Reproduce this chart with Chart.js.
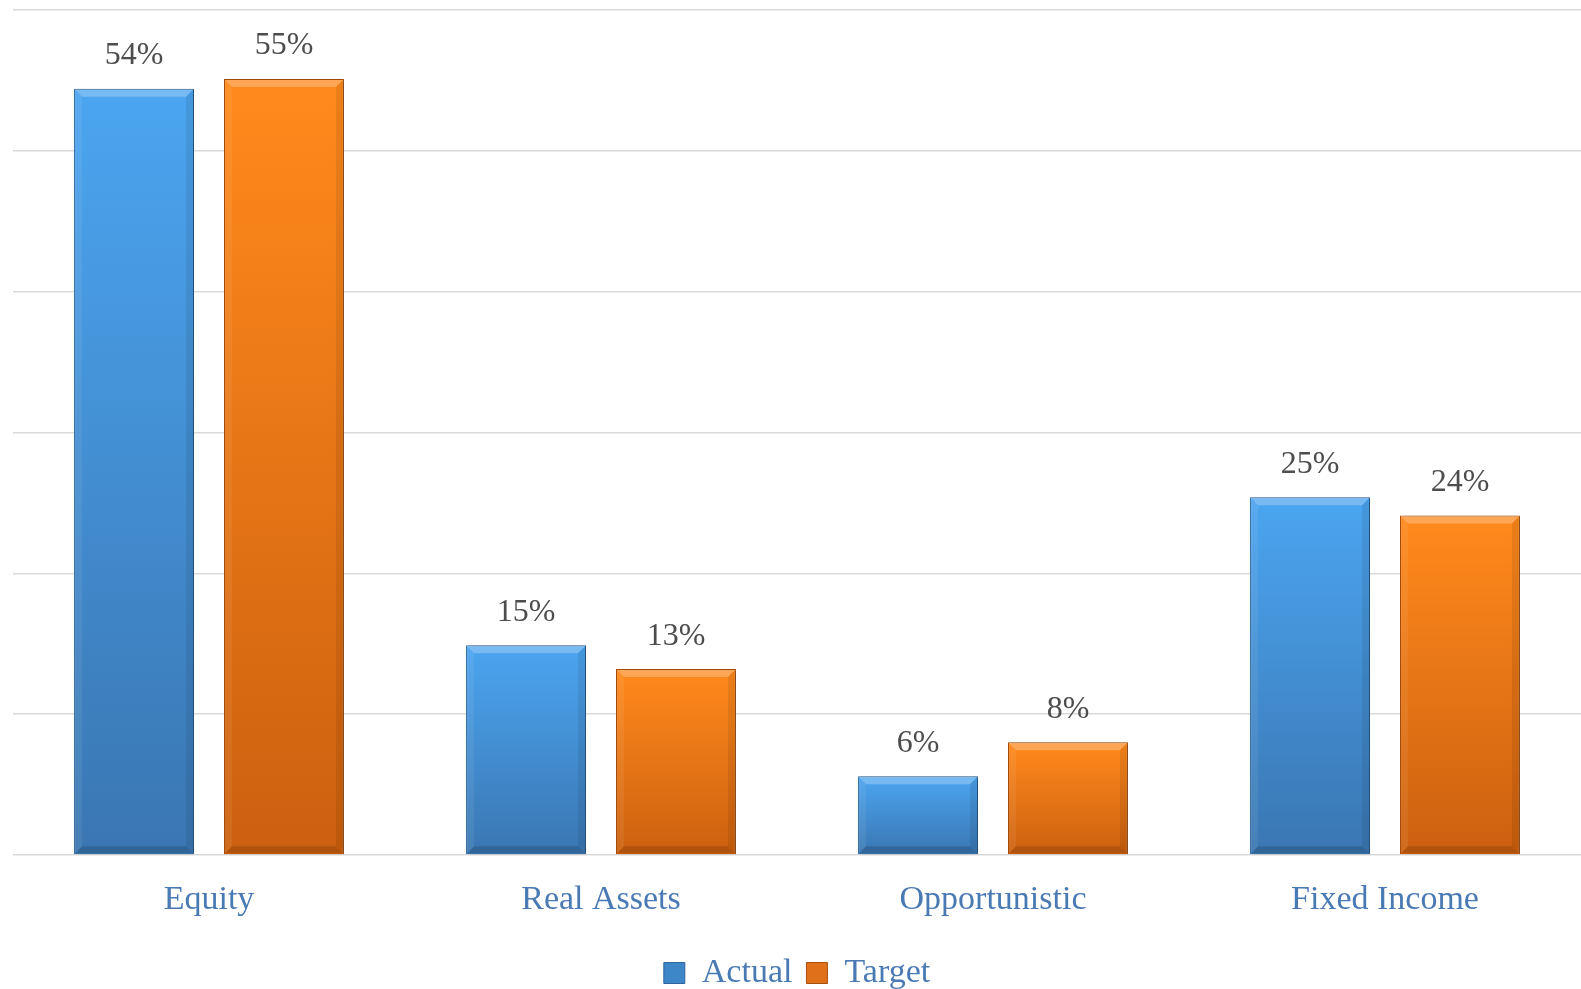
<!DOCTYPE html>
<html>
<head>
<meta charset="utf-8">
<script src="https://cdn.jsdelivr.net/npm/chart.js@4.4.0/dist/chart.umd.min.js"></script>
<style>
html, body { margin: 0; padding: 0; background: #fff; }
</style>
</head>
<body>
<canvas id="allocChart" width="1581" height="989"></canvas>
<script>
// 데이터
const categories = ['Equity', 'Real Assets', 'Opportunistic', 'Fixed Income'];
const actualValues = [54.4, 14.9, 5.6, 25.4];
const targetValues = [55.1, 13.2, 8.0, 24.1];
const seriesNames = ['Actual', 'Target'];
const yMin = 0;
const yMax = 60;
const yStep = 10;

const serifFont = "'Liberation Serif', 'Times New Roman', serif";
const labelBlue = '#4a7ab4';

// 막대 그라데이션 (막대마다 위->아래)
function barGradient(topColor, bottomColor) {
    return function(context) {
        const chart = context.chart;
        const yScale = chart.scales.y;
        if (!yScale || context.type !== 'data') return bottomColor;
        const y0 = yScale.getPixelForValue(0);
        const y1 = yScale.getPixelForValue(context.raw);
        const g = chart.ctx.createLinearGradient(0, y1, 0, y0);
        g.addColorStop(0, topColor);
        g.addColorStop(1, bottomColor);
        return g;
    };
}

function poly(ctx, pts) {
    ctx.beginPath();
    ctx.moveTo(pts[0], pts[1]);
    for (let i = 2; i < pts.length; i += 2) ctx.lineTo(pts[i], pts[i + 1]);
    ctx.closePath();
    ctx.fill();
}

// 그림자
const shadowPlugin = {
    id: 'barShadow',
    beforeDatasetDraw(chart) {
        const ctx = chart.ctx;
        ctx.save();
        ctx.shadowColor = 'rgba(0,0,0,0.3)';
        ctx.shadowBlur = 4;
        ctx.shadowOffsetX = 2;
        ctx.shadowOffsetY = 1;
    },
    afterDatasetDraw(chart) {
        chart.ctx.restore();
    }
};

// 베벨 효과
const bevelPlugin = {
    id: 'bevel',
    afterDatasetsDraw(chart) {
        const ctx = chart.ctx;
        ctx.save();
        chart.data.datasets.forEach((ds, i) => {
            const meta = chart.getDatasetMeta(i);
            meta.data.forEach(bar => {
                const p = bar.getProps(['x', 'y', 'width', 'base'], true);
                const l = p.x - p.width / 2 + 1;
                const r = p.x + p.width / 2 - 1;
                const t = p.y + 1;
                const b = p.base - 1;
                const s = 7;
                ctx.fillStyle = 'rgba(255,255,255,0.25)';
                poly(ctx, [l, t, r, t, r - s, t + s, l + s, t + s]);
                ctx.fillStyle = 'rgba(255,255,255,0.07)';
                poly(ctx, [l, t, l + s, t + s, l + s, b - s, l, b]);
                ctx.fillStyle = 'rgba(0,0,0,0.08)';
                poly(ctx, [r, t, r, b, r - s, b - s, r - s, t + s]);
                ctx.fillStyle = 'rgba(0,0,0,0.14)';
                poly(ctx, [l, b, l + s, b - s, r - s, b - s, r, b]);
            });
        });
        ctx.restore();
    }
};

// 데이터 레이블
const valueLabelPlugin = {
    id: 'valueLabels',
    afterDraw(chart) {
        const ctx = chart.ctx;
        ctx.save();
        ctx.font = "32px " + serifFont;
        ctx.fillStyle = '#4d4d4d';
        ctx.textAlign = 'center';
        ctx.textBaseline = 'middle';
        chart.data.datasets.forEach((ds, i) => {
            const meta = chart.getDatasetMeta(i);
            meta.data.forEach((bar, j) => {
                const text = Math.round(ds.data[j]) + '%';
                ctx.fillText(text, bar.x, bar.y - 33);
            });
        });
        ctx.restore();
    }
};

const ctx = document.getElementById('allocChart').getContext('2d');

new Chart(ctx, {
    type: 'bar',
    data: {
        labels: categories,
        datasets: [{
            label: seriesNames[0],
            data: actualValues,
            backgroundColor: barGradient('#4ba5f0', '#3a76b2'),
            borderColor: '#2e659c',
            borderWidth: 1,
            legendColor: '#3d86c8'
        }, {
            label: seriesNames[1],
            data: targetValues,
            backgroundColor: barGradient('#ff8a1c', '#cc600f'),
            borderColor: '#a94f0c',
            borderWidth: 1,
            legendColor: '#e0701a'
        }]
    },
    options: {
        responsive: false,
        devicePixelRatio: 1,
        animation: false,
        categoryPercentage: 0.765,
        barPercentage: 0.80,
        layout: {
            padding: { left: 13, right: 0, top: 10, bottom: -11 }
        },
        scales: {
            x: {
                grid: { display: false, drawTicks: false },
                border: { display: false },
                ticks: {
                    color: labelBlue,
                    font: { family: serifFont, size: 34 },
                    padding: 25
                },
                afterFit(scale) {
                    scale.height = 87;
                }
            },
            y: {
                min: yMin,
                max: yMax,
                ticks: { stepSize: yStep, display: false },
                grid: { color: '#d9d9d9', lineWidth: 1.5, drawTicks: false },
                border: { display: false }
            }
        },
        plugins: {
            legend: {
                position: 'bottom',
                labels: {
                    color: labelBlue,
                    font: { family: serifFont, size: 34 },
                    boxWidth: 21,
                    boxHeight: 21,
                    padding: 14,
                    generateLabels(chart) {
                        return chart.data.datasets.map((ds, i) => ({
                            text: ds.label,
                            fillStyle: ds.legendColor,
                            strokeStyle: ds.borderColor,
                            lineWidth: 1,
                            fontColor: labelBlue,
                            datasetIndex: i,
                            hidden: false
                        }));
                    }
                }
            },
            tooltip: { enabled: false }
        }
    },
    plugins: [shadowPlugin, bevelPlugin, valueLabelPlugin]
});
</script>
</body>
</html>
